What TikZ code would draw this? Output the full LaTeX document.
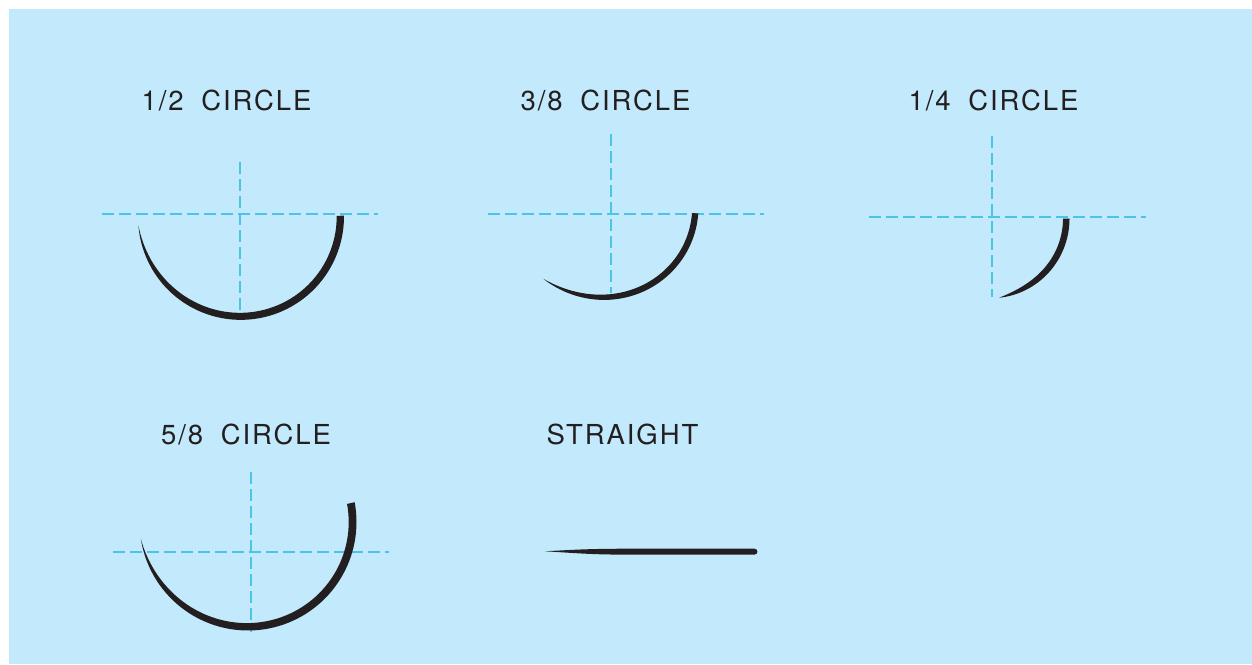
\documentclass[tikz,border=0pt]{standalone}
\usepackage{fontspec}
\setmainfont[LetterSpace=7,WordSpace=1.85]{TeX Gyre Heros}
\definecolor{bgblue}{HTML}{C3EAFC}
\definecolor{axisblue}{HTML}{4CC4E8}
\definecolor{needleblack}{HTML}{231F20}
\tikzset{
  title/.style={font=\fontsize{27.5}{27.5}\selectfont,text=needleblack,inner sep=0pt,anchor=center},
  axisline/.style={draw=axisblue,line width=2pt,dash pattern=on 12pt off 5pt},
  needle/.style={fill=needleblack,draw=none}
}
% cx cy R e a0 a1 w
\newcommand{\needleshape}[7]{%
  \fill[needle]
    plot[domain=0:1,samples=70] ({#1+(#3+(#4)*\x*\x*\x)*cos(#5+(#6-(#5))*\x)},{#2+(#3+(#4)*\x*\x*\x)*sin(#5+(#6-(#5))*\x)})
    -- plot[domain=1:0,samples=70] ({#1+(#3+(#4)*\x*\x*\x-#7*(1-\x*\x*\x*\x*\x))*cos(#5+(#6-(#5))*\x)},{#2+(#3+(#4)*\x*\x*\x-#7*(1-\x*\x*\x*\x*\x))*sin(#5+(#6-(#5))*\x)})
    -- cycle;}
\begin{document}
\begin{tikzpicture}[x=1pt,y=-1pt]
\useasboundingbox (0,0) rectangle (1252,664);
\fill[white] (0,0) rectangle (1252,664);
\fill[bgblue] (9,9) rectangle (1252,664);
% titles
\node[title] (t12) at (226.5,101) {1/2 CIRCLE};
\node[title] (t38) at (605.5,101) {3/8 CIRCLE};
\node[title] (t14) at (993.5,101) {1/4 CIRCLE};
\node[title] (t58) at (246,434.5) {5/8 CIRCLE};
\node[title] (tst) at (622.5,434.5) {STRAIGHT};
% axes
\coordinate (h1a) at (102,214); \coordinate (h1b) at (378,214);
\coordinate (v1a) at (240,162); \coordinate (v1b) at (240,310);
\coordinate (h2a) at (488,214); \coordinate (h2b) at (764,214);
\coordinate (v2a) at (610.5,134); \coordinate (v2b) at (610.5,293);
\coordinate (h3a) at (869,216.5); \coordinate (h3b) at (1146,216.5);
\coordinate (v3a) at (992,136); \coordinate (v3b) at (992,297);
\coordinate (h4a) at (113,552); \coordinate (h4b) at (389,552);
\coordinate (v4a) at (251,472); \coordinate (v4b) at (251,632);
\foreach \p/\q in {h1a/h1b,v1a/v1b,h2a/h2b,v2a/v2b,h3a/h3b,v3a/v3b,h4a/h4b,v4a/v4b}
  \draw[axisline] (\p) -- (\q);
% needles
\needleshape{240.5}{216.5}{103.5}{-1}{-0.5}{175}{7.3}
\needleshape{607}{207}{91.5}{4.5}{4}{131.6}{6.3}
\needleshape{988}{218.5}{81.5}{-1.5}{0}{82}{6.5}
\needleshape{248}{522}{108.5}{0}{-10.5}{171}{7.8}
% straight needle
\fill[needle] (545,551.3) .. controls (575,549.6) and (590,548.8) .. (625,548.7)
  -- (754.5,548.7) arc[start angle=-90,end angle=90,radius=2.95,y=-1pt]
  -- (625,554.6) .. controls (590,554.6) and (575,553) .. (545,551.3) -- cycle;
\end{tikzpicture}
\end{document}
